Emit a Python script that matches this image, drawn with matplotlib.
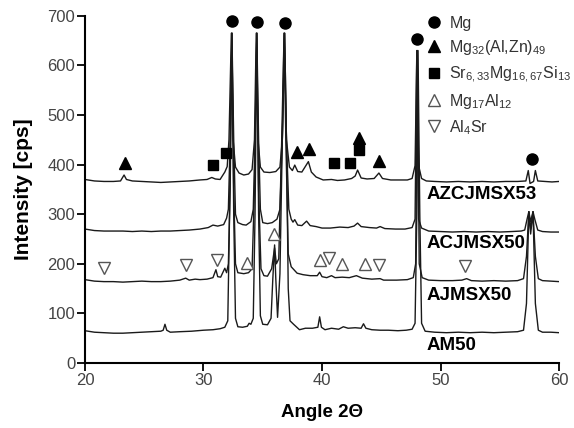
import numpy as np
import matplotlib
matplotlib.use('Agg')
import matplotlib.pyplot as plt
from matplotlib.lines import Line2D

plt.rcParams['font.family'] = ['Liberation Sans', 'DejaVu Sans']
plt.rcParams['mathtext.default'] = 'regular'

# XRD traces (angle 2theta, intensity cps)
am50_x = [20.0, 20.8, 21.6, 22.4, 23.2, 24.0, 24.8, 25.6, 26.4, 26.6, 26.75, 26.9, 27.2, 28.0, 29.0, 30.0,
          30.8, 31.4, 31.8, 32.05, 32.2, 32.4, 32.55, 32.7, 32.9, 33.3, 33.7, 33.85, 34.0, 34.2, 34.35, 34.5,
          34.65, 34.8, 35.0, 35.4, 35.7, 35.85, 36.0, 36.1, 36.25, 36.45, 36.65, 36.85, 37.0, 37.15, 37.3,
          37.6, 38.1, 38.6, 39.2, 39.65, 39.8, 39.95, 40.25, 40.8, 41.4, 41.8, 42.2, 42.8, 43.3, 43.5, 43.7,
          44.2, 44.9, 45.6, 46.4, 47.1, 47.6, 47.85, 48.0, 48.1, 48.25, 48.4, 48.7, 49.5, 50.5, 51.5, 52.5,
          53.5, 54.5, 55.5, 56.5, 57.0, 57.25, 57.45, 57.6, 57.8, 58.0, 58.25, 58.6, 59.3, 60.0]
am50_y = [65, 62, 61, 60, 60, 61, 62, 63, 64, 66, 78, 66, 62, 63, 64, 66,
          67, 69, 72, 85, 300, 665, 300, 90, 73, 72, 74, 80, 78, 90, 300, 665,
          300, 95, 78, 77, 90, 170, 238, 170, 92, 180, 450, 665, 450, 150, 85,
          78, 67, 70, 70, 72, 93, 72, 67, 70, 68, 73, 70, 71, 70, 79, 70,
          67, 66, 66, 65, 66, 68, 80, 300, 630, 300, 80, 64, 62, 61, 62, 61,
          62, 61, 62, 63, 66, 120, 305, 260, 305, 120, 66, 62, 62, 61]

ajmsx50_x = [20.0, 20.8, 21.6, 22.4, 23.2, 24.0, 24.8, 25.6, 26.4, 27.2, 28.0, 28.5, 28.8, 29.3, 29.7, 30.3,
             30.8, 31.05, 31.2, 31.45, 31.8, 31.95, 32.1, 32.25, 32.4, 32.55, 32.7, 32.9, 33.4, 33.8, 34.1,
             34.3, 34.5, 34.65, 34.85, 35.1, 35.4, 35.75, 36.0, 36.15, 36.35, 36.6, 36.8, 36.95, 37.15, 37.4,
             37.9, 38.4, 39.0, 39.6, 39.8, 40.0, 40.4, 40.8, 41.1, 41.7, 42.3, 42.9, 43.4, 44.2, 44.9, 45.2,
             46.3, 47.2, 47.7, 47.9, 48.05, 48.2, 48.45, 49.0, 50.0, 51.0, 51.8, 52.2, 52.6, 53.5, 54.5, 55.5,
             56.5, 57.0, 57.25, 57.45, 57.6, 57.8, 58.0, 58.25, 58.6, 59.3, 60.0]
ajmsx50_y = [168, 165, 164, 164, 163, 164, 165, 164, 164, 165, 167, 171, 167, 169, 168, 169,
             172, 188, 174, 173, 191, 182, 200, 350, 665, 350, 200, 182, 180, 182, 190,
             350, 665, 350, 190, 176, 175, 190, 232, 200, 210, 450, 665, 450, 220, 194,
             181, 178, 176, 176, 183, 174, 172, 176, 172, 173, 172, 176, 171, 169, 170, 167,
             167, 168, 172, 200, 630, 200, 172, 167, 166, 166, 167, 170, 166, 165, 166, 165,
             166, 170, 215, 305, 270, 305, 215, 170, 166, 165, 164]

acjmsx50_x = [20.0, 20.8, 21.6, 22.4, 23.2, 24.0, 24.8, 25.6, 26.4, 27.2, 28.0, 28.8, 29.7, 30.4, 30.8,
              31.2, 31.7, 31.95, 32.1, 32.25, 32.4, 32.55, 32.7, 32.9, 33.3, 33.6, 34.0, 34.2, 34.35, 34.5,
              34.65, 34.8, 35.0, 35.4, 35.8, 36.2, 36.45, 36.65, 36.85, 37.0, 37.2, 37.4, 37.55, 37.7,
              37.95, 38.3, 38.7, 39.0, 39.5, 40.0, 40.7, 41.5, 42.2, 42.7, 43.0, 43.3, 44.0, 44.6, 44.9,
              45.3, 46.2, 47.0, 47.6, 47.85, 48.0, 48.15, 48.4, 49.0, 50.0, 51.0, 52.0, 53.0, 54.0, 55.0,
              56.0, 56.8, 57.1, 57.3, 57.45, 57.6, 57.8, 57.95, 58.2, 58.6, 59.3, 60.0]
acjmsx50_y = [270, 267, 266, 266, 266, 265, 266, 265, 266, 266, 267, 268, 270, 273, 278,
              276, 279, 292, 310, 450, 665, 450, 300, 283, 279, 278, 285, 310, 450, 665,
              450, 310, 283, 281, 283, 290, 310, 450, 665, 450, 310, 290, 284, 289,
              278, 277, 286, 277, 275, 272, 272, 274, 273, 276, 282, 275, 273, 272, 275,
              271, 270, 270, 273, 290, 630, 290, 272, 266, 265, 264, 265, 264, 265, 264,
              265, 266, 268, 290, 305, 285, 305, 290, 268, 265, 264, 264]

azcjmsx53_x = [20.0, 20.8, 21.6, 22.4, 23.0, 23.3, 23.5, 24.0, 24.8, 25.6, 26.4, 27.2, 28.0, 28.8, 29.7,
               30.3, 30.7, 31.0, 31.4, 31.8, 32.0, 32.15, 32.35, 32.5, 32.7, 33.0, 33.4, 33.8, 34.1, 34.3,
               34.45, 34.6, 34.8, 35.1, 35.6, 36.1, 36.45, 36.65, 36.8, 37.0, 37.25, 37.5, 37.7, 37.95,
               38.3, 38.85, 39.1, 39.5, 40.1, 40.8, 41.3, 41.9, 42.5, 42.8, 43.0, 43.3, 43.8, 44.4, 44.8,
               45.1, 45.8, 46.5, 47.2, 47.6, 47.85, 48.0, 48.15, 48.4, 48.8, 49.5, 50.5, 51.5, 52.5, 53.5,
               54.5, 55.5, 56.5, 57.2, 57.4, 57.55, 57.85, 58.0, 58.2, 58.8, 59.4, 60.0]
azcjmsx53_y = [370, 367, 366, 366, 367, 379, 370, 367, 366, 365, 364, 365, 366, 367, 369,
               370, 374, 371, 370, 385, 396, 450, 665, 450, 395, 383, 379, 381, 390, 450,
               665, 450, 395, 385, 384, 386, 395, 450, 665, 450, 395, 388, 399, 386,
               385, 406, 385, 375, 369, 370, 368, 369, 372, 377, 389, 373, 371, 372, 383,
               372, 369, 369, 369, 372, 398, 630, 398, 372, 367, 366, 365, 366, 365, 366,
               365, 366, 366, 367, 388, 362, 366, 388, 367, 366, 365, 366]

sample_names = ['AM50', 'AJMSX50', 'ACJMSX50', 'AZCJMSX53']
label_x = 48.8
label_y = [35, 137, 241, 339]

# phase markers
mg_x = [32.4, 34.5, 36.9, 48.0, 57.75]
mg_y = [689, 687, 685, 653, 411]
mg32_x = [23.4, 37.9, 38.9, 43.1, 44.8]
mg32_y = [404, 426, 431, 453, 407]
sr_x = [30.8, 31.9, 41.0, 42.4, 43.1]
sr_y = [399, 424, 403, 403, 429]
mg17_x = [33.7, 35.95, 39.8, 41.65, 43.6]
mg17_y = [201, 260, 208, 199, 199]
al4sr_x = [21.6, 28.5, 31.1, 40.6, 44.8, 52.1]
al4sr_y = [191, 198, 208, 211, 198, 196]

phase_labels = ['Mg', 'Mg$_{32}$(Al,Zn)$_{49}$', 'Sr$_{6,33}$Mg$_{16,67}$Si$_{13}$',
                'Mg$_{17}$Al$_{12}$', 'Al$_{4}$Sr']

fig = plt.figure(figsize=(5.74, 4.28), dpi=100)
ax = fig.add_axes([0.148, 0.152, 0.826, 0.811])

line_kw = dict(color='#1a1a1a', lw=1.0)
ax.plot(am50_x, am50_y, **line_kw)
ax.plot(ajmsx50_x, ajmsx50_y, **line_kw)
ax.plot(acjmsx50_x, acjmsx50_y, **line_kw)
ax.plot(azcjmsx53_x, azcjmsx53_y, **line_kw)

for name, ly in zip(sample_names, label_y):
    ax.text(label_x, ly, name, fontsize=13.5, fontweight='bold', va='center', ha='left', color='black')

filled = dict(color='black', linestyle='none', clip_on=False)
hollow = dict(markerfacecolor='white', markeredgecolor='#555555', markeredgewidth=1.0,
              linestyle='none', clip_on=False)
ax.plot(mg_x, mg_y, marker='o', ms=8, **filled)
ax.plot(mg32_x, mg32_y, marker='^', ms=8, **filled)
ax.plot(sr_x, sr_y, marker='s', ms=7.5, **filled)
ax.plot(mg17_x, mg17_y, marker='^', ms=9, **hollow)
ax.plot(al4sr_x, al4sr_y, marker='v', ms=9, **hollow)

handles = [
    Line2D([], [], marker='o', ms=8, **filled),
    Line2D([], [], marker='^', ms=8, **filled),
    Line2D([], [], marker='s', ms=7.5, **filled),
    Line2D([], [], marker='^', ms=9, **hollow),
    Line2D([], [], marker='v', ms=9, **hollow),
]
leg = ax.legend(handles, phase_labels, loc='upper left', bbox_to_anchor=(0.718, 1.0),
                frameon=False, fontsize=11.5, borderpad=0, borderaxespad=0, handlelength=1.05,
                handletextpad=0.45, labelspacing=0.45)
for t in leg.get_texts():
    t.set_color('#333333')

ax.set_xlim(20, 60)
ax.set_ylim(0, 700)
ax.set_xticks([20, 30, 40, 50, 60])
ax.set_yticks(np.arange(0, 701, 100))
ax.spines['top'].set_visible(False)
ax.spines['right'].set_visible(False)
for s in ['left', 'bottom']:
    ax.spines[s].set_linewidth(1.5)
ax.tick_params(direction='out', length=5.5, width=1.3, labelsize=12, labelcolor='#444444', pad=1.5)

ax.set_xlabel('Angle 2Θ', fontsize=13.5, fontweight='bold', labelpad=12)
ax.set_ylabel('Intensity [cps]', fontsize=15, fontweight='bold', labelpad=10)

fig.savefig('out.png', dpi=100)
